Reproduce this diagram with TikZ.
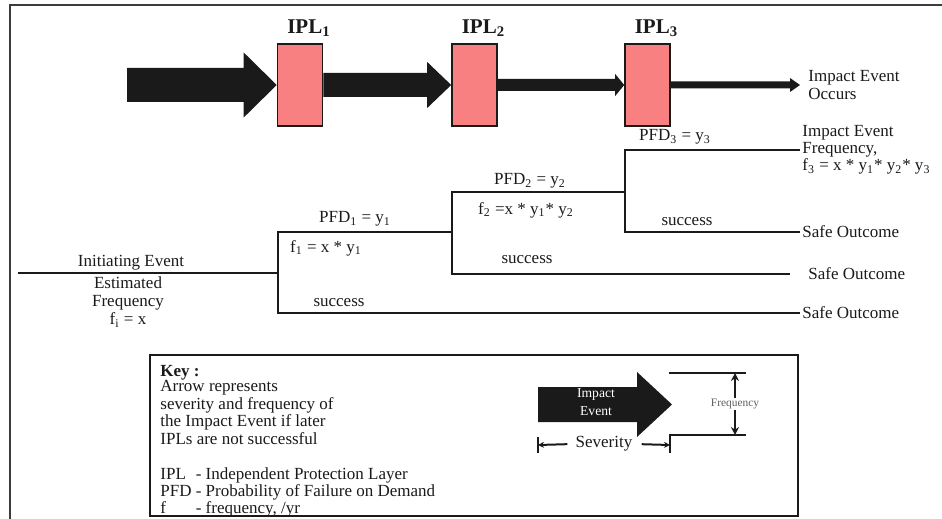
\documentclass[tikz,border=0pt]{standalone}
\usepackage{fontspec}
\setmainfont{Liberation Serif}
\usepackage{tikz}
\usetikzlibrary{arrows.meta,calc,positioning}
\definecolor{ink}{HTML}{1A1A1A}
\definecolor{salmon}{HTML}{F88080}
\tikzset{
  >={Stealth[length=3pt,width=3pt]},
  every node/.style={font=\fontsize{8.5}{8.6}\selectfont,text=ink,inner sep=1pt},
  ipl/.style={draw=ink,line width=0.8pt,fill=salmon,minimum width=22.5pt,minimum height=41pt,inner sep=0pt},
  ipllbl/.style={font=\fontsize{10.5}{12}\selectfont\bfseries,anchor=base},
  tree/.style={draw=ink,line width=1pt},
  outc/.style={anchor=west,align=left,inner xsep=1pt},
  keyline/.style={draw=ink,line width=1pt},
}
% fat arrow: from, tip, shaft half width, head half width, head length
\newcommand{\fatarrow}[5]{%
  \fill[ink] ($(#1)+(0,#3)$) -- ($(#2)+(-#5,#3)$) -- ($(#2)+(-#5,#4)$) -- (#2)
    -- ($(#2)+(-#5,-#4)$) -- ($(#2)+(-#5,-#3)$) -- ($(#1)+(0,-#3)$) -- cycle;}

\begin{document}
\begin{tikzpicture}[x=0.5pt,y=-0.5pt]
  \useasboundingbox (0,0) rectangle (942,519);
  \draw[ink!85,line width=1.2pt] (10,519) -- (10,5) -- (942,5);
  % protection layers
  \node[ipl] (ipl1) at (300,85) {};
  \node[ipl] (ipl2) at (474.5,85) {};
  \node[ipl] (ipl3) at (647.5,85) {};
  \foreach \n in {1,2,3}
    \node[ipllbl] (lbl\n) at ($(ipl\n.north)+(9,-10)$) {IPL\textsubscript{\n}};
  \coordinate (src) at (127,85);
  \node[outc,inner xsep=4pt] (occ) at (800,85) {Impact Event\\Occurs};
  \fatarrow{src}{ipl1.west}{17}{32.5}{33}
  \fatarrow{ipl1.east}{ipl2.west}{12}{23}{24}
  \fatarrow{ipl2.east}{ipl3.west}{6}{11}{9}
  \fatarrow{ipl3.east}{occ.west}{3.5}{7}{10}
  % event tree
  \coordinate (ie) at (18,273);
  \coordinate (b1) at (278,273);
  \coordinate (b2) at (452,232);
  \coordinate (b3) at (625,192);
  \node[outc] (frq) at (800,150) {Impact Event\\Frequency,\\f\textsubscript{3} = x * y\textsubscript{1}* y\textsubscript{2}* y\textsubscript{3}};
  \node[outc] (safe3) at (800,232) {Safe Outcome};
  \node[outc,inner xsep=9pt] (safe2) at (790,274) {Safe Outcome};
  \node[outc] (safe1) at (800,313) {Safe Outcome};
  \draw[tree] (ie) -- (b1);
  \draw[tree] (b1) |- (b2);
  \draw[tree] (b1) |- (safe1.west);
  \draw[tree] (b2) |- (b3);
  \draw[tree] (b2) |- (safe2.west);
  \draw[tree] (b3) |- (frq.west);
  \draw[tree] (b3) |- (safe3.west);
  \node (ie1) at (131,263) {Initiating Event};
  \node[align=center,font=\fontsize{8.5}{9}\selectfont] (ie2) at (128,302) {Estimated\\Frequency\\f\textsubscript{i} = x};
  \node (pfd1) at (355,219) {PFD\textsubscript{1} = y\textsubscript{1}};
  \node (f1) at (326,248) {f\textsubscript{1} = x * y\textsubscript{1}};
  \node (ok1) at (339,303) {success};
  \node (pfd2) at (530,181) {PFD\textsubscript{2} = y\textsubscript{2}};
  \node (f2) at (526,210) {f\textsubscript{2} =x * y\textsubscript{1}* y\textsubscript{2}};
  \node (ok2) at (527,260) {success};
  \node (pfd3) at (675,137) {PFD\textsubscript{3} = y\textsubscript{3}};
  \node (ok3) at (687,222) {success};
  % key
  \node[draw=ink,line width=1.2pt,minimum width=324pt,minimum height=80.5pt,inner sep=0pt] (key) at (474,435.5) {};
  \node[anchor=north west,align=left,font=\fontsize{8.5}{7.5}\selectfont] (keytxt) at (158,363)
    {\textbf{Key :}\\Arrow represents\\severity and frequency of\\the Impact Event if later\\IPLs are not successful};
  \node[anchor=north west,font=\fontsize{8.5}{8.25}\selectfont] (legend) at (158,465)
    {\begin{tabular}{@{}l@{\ }l@{}}IPL & - Independent Protection Layer\\PFD & - Probability of Failure on Demand\\f & - frequency, /yr\end{tabular}};
  \coordinate (kl) at (538,404.5);
  \coordinate (kr) at (672,404.5);
  \fatarrow{kl}{kr}{17.5}{32.5}{35}
  \node[font=\fontsize{6.8}{9}\selectfont,text=white,align=center] (kimp) at (596,402) {Impact\\Event};
  \node (sev) at (604,444) {Severity};
  \coordinate (sl) at (538,445);
  \coordinate (sr) at (670,445);
  \draw[keyline,->,shorten <=3pt] (sev.west) -- (sl);
  \draw[keyline,->,shorten <=3.5pt] (sev.east) -- (sr);
  \draw[keyline] (538,437) -- (538,453);
  \draw[keyline] (746,435) -- (670,435) -- (670,453);
  \draw[keyline] (669,373) -- (746,373);
  \draw[keyline,{Stealth[length=4pt,width=4pt]}-{Stealth[length=4pt,width=4pt]}] (735,373) -- (735,435)
    node[midway,fill=white,inner sep=0.5pt,font=\fontsize{5.7}{6}\selectfont,text=ink!70] (kfreq) {Frequency};
\end{tikzpicture}
\end{document}
